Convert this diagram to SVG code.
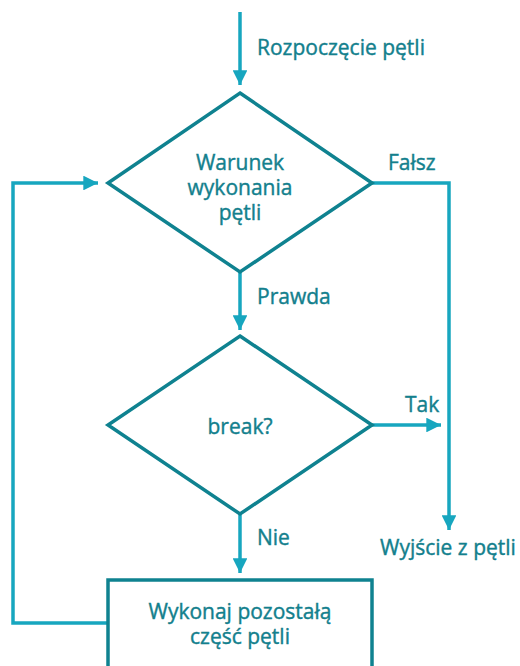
<svg xmlns="http://www.w3.org/2000/svg" width="520" height="666" viewBox="0 0 520 666">
<style>
.shape{fill:none;stroke:#0f8290;stroke-width:3.5}
.conn{fill:none;stroke:#17a6bf;stroke-width:3.5}
text{font-family:"Open Sans","Noto Sans",sans-serif;font-size:21px;fill:#13808d;stroke:#13808d;stroke-width:0.4}
.c{text-anchor:middle}
</style>
<defs>
<marker id="ah" viewBox="0 0 10 10" refX="10" refY="5" markerWidth="5.5" markerHeight="4.2" markerUnits="strokeWidth" orient="auto">
<path d="M0,0 L10,5 L0,10 z" fill="#17a6bf"/>
</marker>
</defs>
<rect width="520" height="666" fill="#fff"/>
<g id="connectors">
<line class="conn" x1="240" y1="12" x2="240" y2="85" marker-end="url(#ah)"/>
<polyline class="conn" points="372,183 449,183 449,530" marker-end="url(#ah)"/>
<polyline class="conn" points="108,623 13,623 13,183 98,183" marker-end="url(#ah)"/>
<line class="conn" x1="240" y1="272" x2="240" y2="330" marker-end="url(#ah)"/>
<line class="conn" x1="372" y1="425" x2="441" y2="425" marker-end="url(#ah)"/>
<line class="conn" x1="240" y1="514" x2="240" y2="573" marker-end="url(#ah)"/>
</g>
<g id="start"><text x="257" y="55">Rozpoczęcie pętli</text></g>
<g id="cond">
<polygon class="shape" points="240,93 372,183 240,272 108,183"/>
<text class="c" x="240" y="170">Warunek</text>
<text class="c" x="240" y="195">wykonania</text>
<text class="c" x="240" y="220">pętli</text>
</g>
<g id="lbl-falsz"><text x="388" y="170">Fałsz</text></g>
<g id="lbl-prawda"><text x="257" y="304">Prawda</text></g>
<g id="brk">
<polygon class="shape" points="240,336 372,425 240,514 108,425"/>
<text class="c" x="240" y="434">break?</text>
</g>
<g id="lbl-tak"><text x="405" y="412">Tak</text></g>
<g id="lbl-nie"><text x="257" y="545">Nie</text></g>
<g id="exit"><text x="380" y="555">Wyjście z pętli</text></g>
<g id="body">
<rect class="shape" x="108" y="580" width="264" height="100"/>
<text class="c" x="240" y="619">Wykonaj pozostałą</text>
<text class="c" x="240" y="644">część pętli</text>
</g>
</svg>
